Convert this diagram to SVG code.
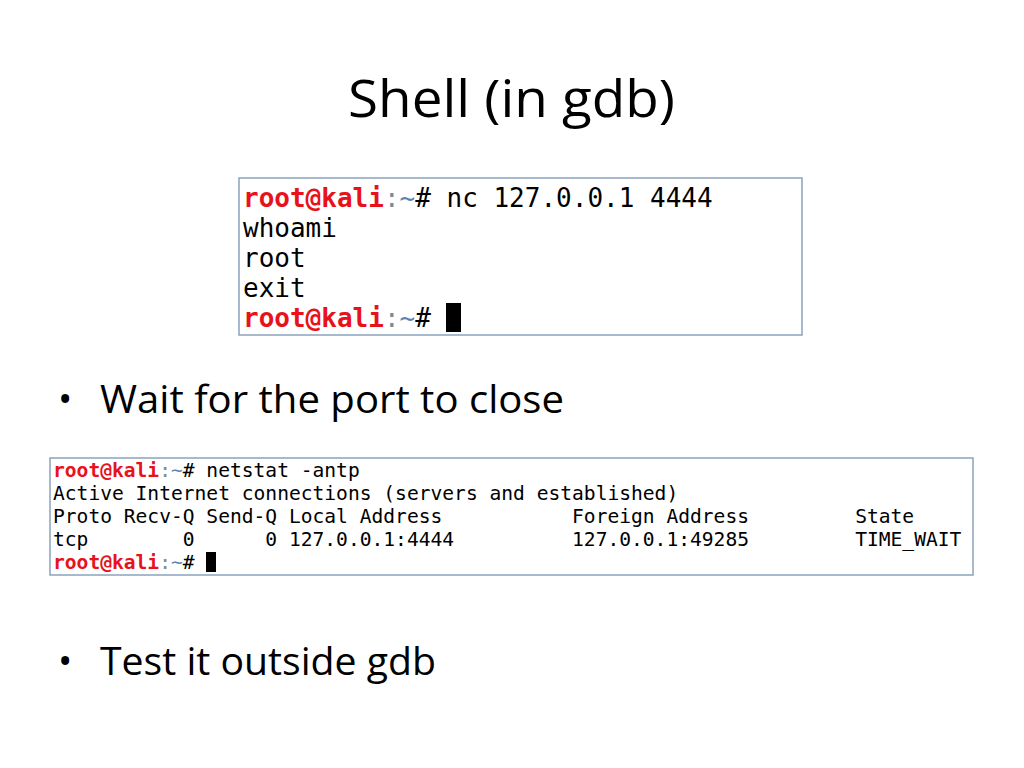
<svg xmlns="http://www.w3.org/2000/svg" width="1024" height="768" viewBox="0 0 1024 768">
<style>
.t{font-family:"Open Sans","Noto Sans",sans-serif;fill:#000}
.m{font-family:"DejaVu Sans Mono","Liberation Mono",monospace;fill:#000;white-space:pre}
.r{fill:#e8121b;font-weight:bold}
.g{fill:#7a8a9a}
.b{fill:#5b82b0}
.box{fill:#fff;stroke:#8ba3bd;stroke-width:1.5}
</style>
<rect width="1024" height="768" fill="#fff"/>
<text class="t" x="348" y="117" font-size="51" textLength="327" lengthAdjust="spacingAndGlyphs">Shell (in gdb)</text>
<g id="term1">
<rect class="box" x="239" y="178" width="563" height="157"/>
<text class="m" font-size="26" xml:space="preserve"><tspan x="243" y="207"><tspan class="r">root@kali</tspan><tspan class="g">:</tspan><tspan class="b">~</tspan># nc 127.0.0.1 4444</tspan><tspan x="243" y="237">whoami</tspan><tspan x="243" y="267">root</tspan><tspan x="243" y="297">exit</tspan><tspan x="243" y="327"><tspan class="r">root@kali</tspan><tspan class="g">:</tspan><tspan class="b">~</tspan># </tspan></text>
<rect x="446" y="303" width="15" height="29" fill="#000"/>
</g>
<g id="bullet1">
<text class="t" x="58" y="413" font-size="38">•</text>
<text class="t" x="100" y="413" font-size="38" textLength="464" lengthAdjust="spacingAndGlyphs">Wait for the port to close</text>
</g>
<g id="term2">
<rect class="box" x="50" y="458" width="923" height="117"/>
<text class="m" font-size="19.6" xml:space="preserve"><tspan x="53" y="477"><tspan class="r">root@kali</tspan><tspan class="g">:</tspan><tspan class="b">~</tspan># netstat -antp</tspan><tspan x="53" y="500">Active Internet connections (servers and established)</tspan><tspan x="53" y="523">Proto Recv-Q Send-Q Local Address           Foreign Address         State</tspan><tspan x="53" y="546">tcp        0      0 127.0.0.1:4444          127.0.0.1:49285         TIME_WAIT</tspan><tspan x="53" y="569"><tspan class="r">root@kali</tspan><tspan class="g">:</tspan><tspan class="b">~</tspan># </tspan></text>
<rect x="206" y="552" width="10" height="20" fill="#000"/>
</g>
<g id="bullet2">
<text class="t" x="58" y="675" font-size="38">•</text>
<text class="t" x="100" y="675" font-size="38" textLength="336" lengthAdjust="spacingAndGlyphs">Test it outside gdb</text>
</g>
</svg>
